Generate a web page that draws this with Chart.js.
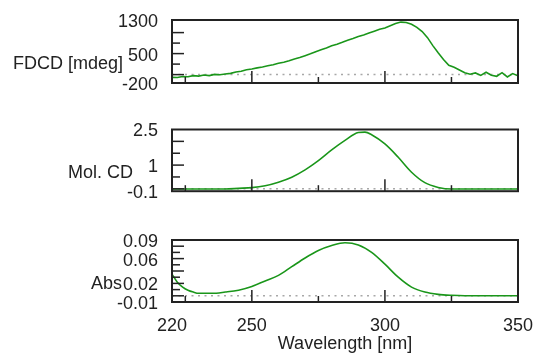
<!DOCTYPE html>
<html lang="en">
<head>
<meta charset="UTF-8">
<title>FDCD, Mol. CD and Abs spectra</title>
<style>
  body { margin: 0; background: #fff; overflow: hidden; }
  canvas.panel { position: absolute; left: 0; }
</style>
<script src="https://cdn.jsdelivr.net/npm/chart.js"></script>
</head>
<body>
<canvas id="fdcd" class="panel" width="535" height="105" style="top:0px"></canvas>
<canvas id="molcd" class="panel" width="535" height="100" style="top:108px"></canvas>
<canvas id="abs" class="panel" width="535" height="140" style="top:215px"></canvas>
<script>
// ---- data ----
const fdcdNm = [220, 222, 224, 226, 228, 230, 232, 234, 236, 238, 240, 242, 244, 246, 248, 250,
                252, 254, 256, 258, 260, 262, 264, 266, 268, 270, 272, 274, 276, 278, 280, 282,
                284, 286, 288, 290, 292, 294, 296, 298, 300, 302, 304, 306, 308, 310, 312, 314,
                316, 318, 320, 322, 324, 326, 328, 330, 332, 334, 336, 338, 340, 342, 344, 346,
                348, 350];
const fdcdVals = [-65, -70, -45, -50, -25, -35, -10, -25, 5, -5, 15, 30, 60, 80, 115, 135,
                  160, 180, 210, 235, 270, 295, 330, 370, 405, 450, 495, 545, 590, 635, 685, 725,
                  770, 820, 860, 905, 945, 990, 1035, 1080, 1110, 1165, 1215, 1250, 1240, 1200, 1125, 1025,
                  880, 690, 520, 360, 220, 175, 110, 45, 10, 40, -20, 55, -15, -40, 45, -55,
                  25, -30];

const cdNm = [220, 230, 240, 245, 250, 255, 260, 265, 270, 275, 280, 285, 290, 292.5, 295,
              300, 305, 310, 315, 320, 325, 330, 340, 350];
const cdVals = [-0.01, -0.01, -0.01, 0.02, 0.05, 0.13, 0.28, 0.49, 0.80, 1.19, 1.64, 2.04, 2.37, 2.39, 2.28,
                1.89, 1.33, 0.70, 0.26, 0.06, -0.01, -0.01, -0.01, -0.01];

const absNm = [220, 222, 224, 226, 228, 230, 235, 240, 245, 250, 255, 260, 265, 270, 275, 280,
               285, 290, 295, 300, 305, 310, 315, 320, 325, 330, 340, 350];
const absVals = [0.035, 0.022, 0.014, 0.009, 0.006, 0.004, 0.004, 0.006, 0.009, 0.015, 0.024, 0.033,
                 0.047, 0.061, 0.073, 0.081, 0.0855, 0.082, 0.070, 0.051, 0.030, 0.014, 0.006, 0.0023,
                 0.0008, 0.0002, 0.0002, 0.0002];

// axis ticks
const xLabels = [220, 250, 300, 350];
const xMajor = [250, 300];
const xMinor = [225, 275, 325];

const fdcdLabels = [-200, 500, 1300];
const fdcdMajor = [0, 500, 1000];
const fdcdMinor = [250, 750];

const cdLabels = [-0.1, 1, 2.5];
const cdMajor = [0, 1, 2];
const cdMinor = [0.5, 1.5];

const absLabels = [-0.01, 0.02, 0.06, 0.09];
const absMajor = [0, 0.02, 0.04, 0.06, 0.08];
const absMinor = [0.01, 0.03, 0.05, 0.07];

const FONT = '"Liberation Sans", Arial, sans-serif';
const INK = '#222';
const GREEN = '#1a961a';

// frame, inward ticks, zero line and horizontal axis title
const framePlugin = {
    id: 'frame',
    beforeDatasetsDraw(chart, args, opts) {
        const { ctx, chartArea: a, scales: { y } } = chart;
        const py = y.getPixelForValue(0);
        ctx.save();
        ctx.strokeStyle = '#a8a8a8';
        ctx.lineWidth = 1.5;
        ctx.setLineDash([2, 4.5]);
        ctx.beginPath();
        ctx.moveTo(a.left, py);
        ctx.lineTo(a.right, py);
        ctx.stroke();
        ctx.restore();
    },
    afterDraw(chart, args, opts) {
        const { ctx, chartArea: a, scales: { x, y } } = chart;
        ctx.save();
        ctx.strokeStyle = INK;
        ctx.lineWidth = 1.5;
        const seg = (x1, y1, x2, y2) => {
            ctx.beginPath(); ctx.moveTo(x1, y1); ctx.lineTo(x2, y2); ctx.stroke();
        };
        xMajor.forEach(v => { const px = x.getPixelForValue(v); seg(px, a.bottom, px, a.bottom - 12); });
        xMinor.forEach(v => { const px = x.getPixelForValue(v); seg(px, a.bottom, px, a.bottom - 6); });
        opts.major.forEach(v => { const py = y.getPixelForValue(v); seg(a.left, py, a.left + 12, py); });
        opts.minor.forEach(v => { const py = y.getPixelForValue(v); seg(a.left, py, a.left + 8, py); });
        ctx.lineWidth = 2;
        ctx.strokeRect(a.left, a.top, a.right - a.left, a.bottom - a.top);

        ctx.font = '18px ' + FONT;
        ctx.fillStyle = INK;
        ctx.textAlign = 'right';
        ctx.textBaseline = 'alphabetic';
        ctx.fillText(opts.title, opts.titleRight, a.top + 48.5);
        ctx.restore();
    }
};

function makePanel(id, nm, vals, cfg) {
    const xScale = {
        type: 'linear', min: 220, max: 350, display: cfg.showX
    };
    if (cfg.showX) {
        Object.assign(xScale, {
            afterBuildTicks: s => { s.ticks = xLabels.map(v => ({ value: v })); },
            afterFit: s => { s.height = 53; s.paddingLeft = 0; s.paddingRight = 0; },
            grid: { display: false },
            border: { display: false },
            ticks: {
                color: INK, font: { family: FONT, size: 18 }, padding: 5,
                maxRotation: 0, autoSkip: false, callback: v => String(v)
            },
            title: {
                display: true, text: 'Wavelength [nm]', color: INK,
                font: { family: FONT, size: 18 }, padding: { top: 0, bottom: 0 }
            }
        });
    }
    return new Chart(document.getElementById(id), {
        type: 'line',
        data: {
            datasets: [{
                data: nm.map((x, i) => ({ x: x, y: vals[i] })),
                borderColor: GREEN,
                borderWidth: 1.6,
                pointRadius: 0,
                fill: false,
                cubicInterpolationMode: cfg.smooth ? 'monotone' : 'default',
                tension: 0
            }]
        },
        options: {
            responsive: false,
            animation: false,
            layout: { padding: cfg.padding },
            plugins: {
                legend: { display: false },
                tooltip: { enabled: false },
                frame: { title: cfg.title, titleRight: cfg.titleRight, major: cfg.major, minor: cfg.minor }
            },
            scales: {
                x: xScale,
                y: {
                    min: cfg.min, max: cfg.max,
                    afterBuildTicks: s => { s.ticks = cfg.labels.map(v => ({ value: v })); },
                    afterFit: s => { s.width = 172; },
                    grid: { display: false },
                    border: { display: false },
                    ticks: {
                        color: INK, font: { family: FONT, size: 18 }, padding: 6, labelOffset: 2,
                        autoSkip: false, callback: v => String(v)
                    }
                }
            }
        },
        plugins: [framePlugin]
    });
}

makePanel('fdcd', fdcdNm, fdcdVals, {
    min: -200, max: 1300, labels: fdcdLabels, major: fdcdMajor, minor: fdcdMinor,
    title: 'FDCD [mdeg]', titleRight: 123, smooth: false, showX: false,
    padding: { top: 20, right: 17, bottom: 22, left: 0 }
});
makePanel('molcd', cdNm, cdVals, {
    min: -0.1, max: 2.5, labels: cdLabels, major: cdMajor, minor: cdMinor,
    title: 'Mol. CD', titleRight: 133, smooth: true, showX: false,
    padding: { top: 21.5, right: 17, bottom: 15.5, left: 0 }
});
makePanel('abs', absNm, absVals, {
    min: -0.01, max: 0.09, labels: absLabels, major: absMajor, minor: absMinor,
    title: 'Abs', titleRight: 122, smooth: true, showX: true,
    padding: { top: 25, right: 17, bottom: 0, left: 0 }
});
</script>
</body>
</html>
